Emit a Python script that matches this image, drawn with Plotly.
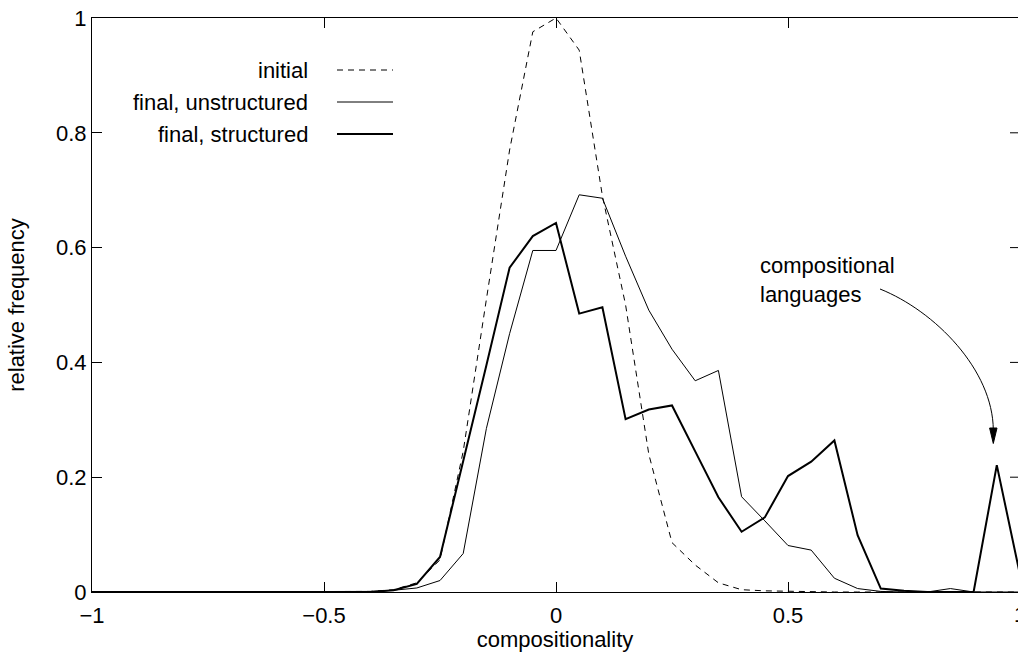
import plotly.graph_objects as go

# ---------------- data ----------------
compositionality = [-1.0, -0.95, -0.9, -0.85, -0.8, -0.75, -0.7, -0.65, -0.6, -0.55,
                    -0.5, -0.45, -0.4, -0.35, -0.3, -0.25, -0.2, -0.15, -0.1, -0.05,
                    0.0, 0.05, 0.1, 0.15, 0.2, 0.25, 0.3, 0.35, 0.4, 0.45,
                    0.5, 0.55, 0.6, 0.65, 0.7, 0.75, 0.8, 0.85, 0.9, 0.95, 1.0]

initial = [0, 0, 0, 0, 0, 0, 0, 0, 0, 0,
           0, 0, 0.001, 0.004, 0.016, 0.056, 0.245, 0.51, 0.77, 0.976,
           1.0, 0.944, 0.69, 0.50, 0.24, 0.086, 0.047, 0.016, 0.004, 0.002,
           0.001, 0, 0, 0, 0, 0, 0, 0, 0, 0, 0]

final_unstructured = [0, 0, 0, 0, 0, 0, 0, 0, 0, 0,
                      0, 0, 0.001, 0.003, 0.007, 0.02, 0.067, 0.285, 0.45, 0.595,
                      0.595, 0.692, 0.686, 0.585, 0.491, 0.423, 0.368, 0.386, 0.166, 0.124,
                      0.081, 0.073, 0.024, 0.006, 0.001, 0, 0, 0.006, 0, 0, 0]

final_structured = [0, 0, 0, 0, 0, 0, 0, 0, 0, 0,
                    0, 0, 0, 0.003, 0.014, 0.061, 0.226, 0.395, 0.565, 0.62,
                    0.643, 0.485, 0.496, 0.301, 0.318, 0.325, 0.245, 0.165, 0.105, 0.13,
                    0.202, 0.227, 0.264, 0.099, 0.006, 0.002, 0, 0, 0, 0.221, 0.03]

x_ticks = [-1, -0.5, 0, 0.5]
y_ticks = [0, 0.2, 0.4, 0.6, 0.8, 1]
legend_labels = ["initial", "final, unstructured", "final, structured"]
annotation_text = "compositional<br>languages"

# ---------------- geometry ----------------
W, H = 1018, 652
L, R, T, B = 92, 0, 18, 60
PW = W - L - R
PH = H - T - B
PX_PER_X = 464.0          # pixels per unit of compositionality
X_MAX = -1 + PW / PX_PER_X

FONT = "Liberation Sans, Arial, Helvetica, sans-serif"
FS = 22


def px2x(px):
    return -1 + (px - L) / PX_PER_X


def py2y(py):
    return (H - B - py) / PH


def px2paper(px):
    return (px - L) / PW


def py2paper(py):
    return (H - B - py) / PH


styles = [dict(color="black", width=1, dash="6px,5px"),
          dict(color="black", width=1),
          dict(color="black", width=2)]

fig = go.Figure()
for name, ys, st in zip(legend_labels, [initial, final_unstructured, final_structured], styles):
    fig.add_trace(go.Scatter(x=compositionality, y=ys, mode="lines", name=name,
                             line=st, showlegend=False, hoverinfo="skip"))

shapes = []
annotations = []

# manual legend (text right of a line sample)
leg_rows = [70, 102, 134]
for lab, st, ry in zip(legend_labels, styles, leg_rows):
    shapes.append(dict(type="line", xref="paper", yref="paper",
                       x0=px2paper(337), x1=px2paper(393),
                       y0=py2paper(ry), y1=py2paper(ry), line=st))
    annotations.append(dict(text=lab, xref="paper", yref="paper",
                            x=px2paper(310), y=py2paper(ry),
                            xanchor="right", yanchor="middle", showarrow=False,
                            font=dict(family=FONT, size=FS, color="black")))

# right-side inward ticks (axis line itself lies just outside the window)
for yt in y_ticks[1:-1]:
    shapes.append(dict(type="line", xref="paper", yref="y",
                       x0=px2paper(1010), x1=1.01, y0=yt, y1=yt,
                       line=dict(color="black", width=1)))

# partially visible "1" tick label at the right edge
annotations.append(dict(text="1", xref="paper", yref="paper",
                        x=px2paper(1020), y=py2paper(614),
                        xanchor="center", yanchor="middle", showarrow=False,
                        font=dict(family=FONT, size=FS, color="black")))

# "compositional languages" annotation with curved arrow
annotations.append(dict(text=annotation_text, xref="x", yref="y",
                        x=px2x(758), y=py2y(280), xanchor="left", yanchor="middle",
                        align="left", showarrow=False,
                        font=dict(family=FONT, size=FS, color="black")))

p0 = (880, 289)
c1 = (935, 311)
c2 = (993, 370)
p3 = (993.3, 430)
path = "M {},{} C {},{} {},{} {},{}".format(px2x(p0[0]), py2y(p0[1]),
                                            px2x(c1[0]), py2y(c1[1]),
                                            px2x(c2[0]), py2y(c2[1]),
                                            px2x(p3[0]), py2y(p3[1]))
shapes.append(dict(type="path", xref="x", yref="y", path=path,
                   line=dict(color="black", width=1)))
head = "M {},{} L {},{} L {},{} Z".format(px2x(993.3), py2y(443.5),
                                          px2x(989.6), py2y(428),
                                          px2x(997.0), py2y(428))
shapes.append(dict(type="path", xref="x", yref="y", path=head,
                   fillcolor="black", line=dict(color="black", width=1)))

fig.update_layout(
    width=W, height=H,
    margin=dict(l=L, r=R, t=T, b=B, pad=0),
    paper_bgcolor="white", plot_bgcolor="white",
    font=dict(family=FONT, size=FS, color="black"),
    shapes=shapes, annotations=annotations,
    xaxis=dict(range=[-1, X_MAX], tickvals=x_ticks, ticks="inside", ticklen=10,
               tickcolor="black", showline=True, linecolor="black", linewidth=1,
               mirror="ticks", showgrid=False, zeroline=False,
               ticklabelstandoff=4,
               tickfont=dict(family=FONT, size=FS),
               title=dict(text="compositionality", standoff=2,
                          font=dict(family=FONT, size=FS))),
    yaxis=dict(range=[0, 1], tickvals=y_ticks, ticks="inside", ticklen=10,
               tickcolor="black", showline=True, linecolor="black", linewidth=1,
               mirror=False, showgrid=False, zeroline=False,
               tickfont=dict(family=FONT, size=FS),
               title=dict(text="relative frequency", standoff=25,
                          font=dict(family=FONT, size=FS))),
)

fig.write_html("out.html")
